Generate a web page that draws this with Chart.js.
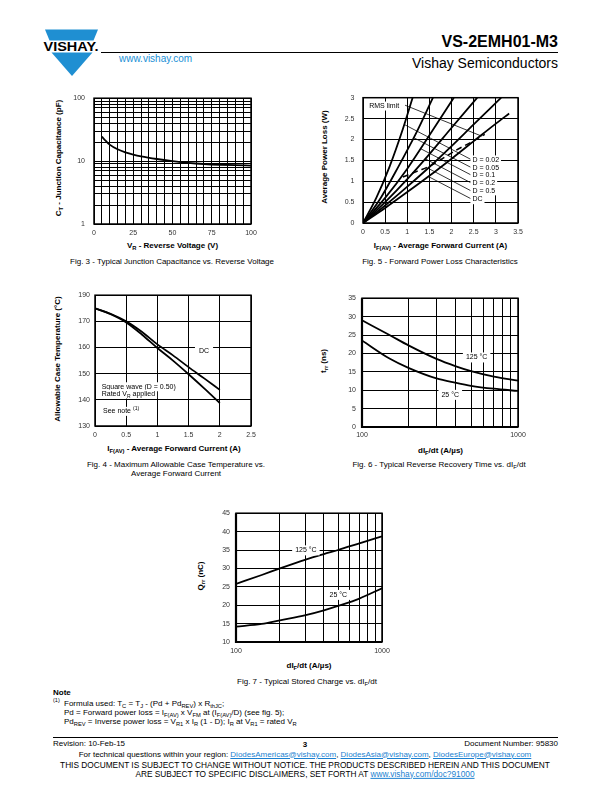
<!DOCTYPE html>
<html>
<head>
<meta charset="utf-8">
<title>VS-2EMH01-M3</title>
<script src="https://cdn.jsdelivr.net/npm/chart.js@4.4.1/dist/chart.umd.min.js"></script>
<style>
html,body{margin:0;padding:0;background:#fff;}
#page{position:relative;width:612px;height:792px;overflow:hidden;font-family:"Liberation Sans",Arial,sans-serif;color:#000;background:#fff;}
.t{position:absolute;white-space:nowrap;line-height:1;}
.c{transform:translate(-50%,-50%);}
.l{transform:translate(0,-50%);}
.r{transform:translate(-100%,-50%);}
.rot{transform:translate(-50%,-50%) rotate(-90deg);}
.ax{font-weight:bold;font-size:8px;}
.cap{font-size:8px;}
.ft{font-size:8px;}
.ftb{font-size:8.3px;}
sub{font-size:0.72em;vertical-align:-0.3em;line-height:0;}
sup{font-size:0.65em;vertical-align:0.5em;line-height:0;}
canvas{position:absolute;}
.lnk{color:#1a7fd0;text-decoration:underline;}
.hr{position:absolute;height:1px;background:#000;}
</style>
</head>
<body>
<div id="page">
  <svg width="612" height="90" style="position:absolute;left:0;top:0">
    <polygon points="45,29.5 98,29.5 93.5,40.5 49.5,40.5" fill="#1f8fd2"/>
    <polygon points="51.5,52.5 92.5,52.5 72,76" fill="#1f8fd2"/>
    <text x="43.5" y="51" font-family="Liberation Sans, Arial, sans-serif" font-weight="bold" font-size="12" textLength="55" lengthAdjust="spacingAndGlyphs">VISHAY.</text>
  </svg>
  <div class="t r" style="left:558px;top:42px;font-size:16px;font-weight:bold">VS-2EMH01-M3</div>
  <div class="hr" style="left:101px;top:52px;width:457px;"></div>
  <div class="t l" style="left:119px;top:58.5px;font-size:10px;color:#1a8fd6">www.vishay.com</div>
  <div class="t r" style="left:558px;top:62.5px;font-size:14px">Vishay Semiconductors</div>

  <!-- Fig 3 texts -->
  <div class="t rot ax" style="left:58.5px;top:157.5px">C<sub>T</sub> - Junction Capacitance (pF)</div>
  <div class="t c ax" style="left:172.5px;top:246px">V<sub>R</sub> - Reverse Voltage (V)</div>
  <div class="t c cap" style="left:172px;top:262px">Fig. 3 - Typical Junction Capacitance vs. Reverse Voltage</div>

  <!-- Fig 5 texts -->
  <div class="t rot ax" style="left:324.5px;top:157px">Average Power Loss (W)</div>
  <div class="t c ax" style="left:440.5px;top:246px">I<sub>F(AV)</sub> - Average Forward Current (A)</div>
  <div class="t c cap" style="left:440px;top:261.5px">Fig. 5 - Forward Power Loss Characteristics</div>

  <!-- Fig 4 texts -->
  <div class="t rot ax" style="left:57.5px;top:359px">Allowable Case Temperature (°C)</div>
  <div class="t c ax" style="left:174px;top:448.5px">I<sub>F(AV)</sub> - Average Forward Current (A)</div>
  <div class="t c cap" style="left:176px;top:464.5px">Fig. 4 - Maximum Allowable Case Temperature vs.</div>
  <div class="t c cap" style="left:176px;top:473.5px">Average Forward Current</div>

  <!-- Fig 6 texts -->
  <div class="t rot ax" style="left:323.5px;top:361px">t<sub>rr</sub> (ns)</div>
  <div class="t c ax" style="left:440.5px;top:450.5px">dI<sub>F</sub>/dt (A/µs)</div>
  <div class="t c cap" style="left:439px;top:465px">Fig. 6 - Typical Reverse Recovery Time vs. dI<sub>F</sub>/dt</div>

  <!-- Fig 7 texts -->
  <div class="t rot ax" style="left:201px;top:575.5px">Q<sub>rr</sub> (nC)</div>
  <div class="t c ax" style="left:309px;top:666px">dI<sub>F</sub>/dt (A/µs)</div>
  <div class="t c cap" style="left:307px;top:682px">Fig. 7 - Typical Stored Charge vs. dI<sub>F</sub>/dt</div>

  <!-- Note -->
  <div class="t l ft" style="left:53px;top:692.5px;font-weight:bold">Note</div>
  <div class="t l" style="left:53px;top:701px;font-size:5.5px">(1)</div>
  <div class="t l ft" style="left:64px;top:704px">Formula used: T<sub>C</sub> = T<sub>J</sub> - (Pd + Pd<sub>REV</sub>) x R<sub>thJC</sub>;</div>
  <div class="t l ft" style="left:64px;top:713px">Pd = Forward power loss = I<sub>F(AV)</sub> x V<sub>FM</sub> at (I<sub>F(AV)</sub>/D) (see fig. 5);</div>
  <div class="t l ft" style="left:64px;top:722px">Pd<sub>REV</sub> = Inverse power loss = V<sub>R1</sub> x I<sub>R</sub> (1 - D); I<sub>R</sub> at V<sub>R1</sub> = rated V<sub>R</sub></div>

  <!-- Footer -->
  <div class="hr" style="left:53px;top:737px;width:505px;"></div>
  <div class="t l ft" style="left:53px;top:743.5px">Revision: 10-Feb-15</div>
  <div class="t c ft" style="left:305px;top:744.5px;font-weight:bold">3</div>
  <div class="t r ft" style="left:558px;top:743.5px">Document Number: 95830</div>
  <div class="t c ft" style="left:305px;top:754.5px">For technical questions within your region: <span class="lnk">DiodesAmericas@vishay.com</span>, <span class="lnk">DiodesAsia@vishay.com</span>, <span class="lnk">DiodesEurope@vishay.com</span></div>
  <div class="t c ftb" style="left:305px;top:765px">THIS DOCUMENT IS SUBJECT TO CHANGE WITHOUT NOTICE. THE PRODUCTS DESCRIBED HEREIN AND THIS DOCUMENT</div>
  <div class="t c ftb" style="left:305px;top:773.5px">ARE SUBJECT TO SPECIFIC DISCLAIMERS, SET FORTH AT <span class="lnk">www.vishay.com/doc?91000</span></div>
</div>

<script>
// ================= DATA =================
// Fig. 3 - Junction capacitance
const capVr = [5, 7.5, 10, 15, 20, 25, 30, 40, 50, 60, 70, 80, 90, 100];
const capCt = [24.5, 21, 18.3, 15.4, 13.8, 12.7, 11.9, 10.8, 10.0, 9.4, 9.0, 8.75, 8.6, 8.5];
const capXTicks = [0,5,10,15,20,25,30,35,40,45,50,55,60,65,70,75,80,85,90,95,100];
const capXLabels = ['0','','','','','25','','','','','50','','','','','75','','','','','100'];
const capYTicks = [1,2,3,4,5,6,7,8,9,10,20,30,40,50,60,70,80,90,100];
const capYLabels = ['1','','','','','','','','','10','','','','','','','','','100'];

// Fig. 5 - Forward power loss
const plI002 = [0, 0.3, 0.6, 0.9, 1.12];
const plP002 = [0, 0.6, 1.35, 2.25, 3.0];
const plI005 = [0, 0.4, 0.8, 1.2, 1.58];
const plP005 = [0, 0.6, 1.35, 2.15, 3.0];
const plI01  = [0, 0.5, 1.0, 1.5, 2.05];
const plP01  = [0, 0.6, 1.3, 2.1, 3.0];
const plI02  = [0, 0.5, 1.0, 1.5, 2.0, 2.58];
const plP02  = [0, 0.5, 1.05, 1.65, 2.28, 3.0];
const plI05  = [0, 0.5, 1.0, 1.5, 2.0, 2.5, 3.12];
const plP05  = [0, 0.42, 0.87, 1.34, 1.84, 2.36, 3.0];
const plIdc  = [0, 0.5, 1.0, 1.5, 2.0, 2.5, 3.0, 3.3];
const plPdc  = [0, 0.36, 0.74, 1.13, 1.54, 1.96, 2.38, 2.62];
const rmsI   = [0.9, 1.25, 1.5, 2.1, 2.45, 2.75];
const rmsP   = [1.1, 1.25, 1.36, 1.74, 1.94, 2.12];
const plXTicks = [0,0.5,1,1.5,2,2.5,3,3.5];
const plXLabels = ['0','0.5','1','1.5','2','2.5','3','3.5'];
const plYTicks = [0,0.5,1,1.5,2,2.5,3];
const plYLabels = ['0','0.5','1','1.5','2','2.5','3'];

// Fig. 4 - Allowable case temperature
const tcI   = [0, 0.25, 0.5, 0.75, 1, 1.25, 1.5, 1.75, 2];
const tcDC  = [175, 172.9, 170, 166, 161.2, 157, 152.5, 148.2, 143.8];
const tcSq  = [175, 172.7, 169.6, 165, 159.8, 155, 149.8, 144.4, 138.8];
const tcXTicks = [0,0.5,1,1.5,2,2.5];
const tcXLabels = ['0','0.5','1','1.5','2','2.5'];
const tcYTicks = [130,140,150,160,170,180];
const tcYLabels = ['130','140','150','160','170','190'];

// Fig. 6 - Reverse recovery time
const trrDidt = [100, 150, 200, 300, 400, 500, 700, 1000];
const trr125  = [29.0, 25.0, 22.1, 18.5, 16.5, 15.2, 13.7, 12.6];
const trr25   = [23.5, 18.6, 16.0, 13.2, 12.0, 11.2, 10.4, 9.8];
const didtTicks = [100,200,300,400,500,600,700,800,900,1000];
const didtLabels = ['100','','','','','','','','','1000'];
const trrYTicks = [0,5,10,15,20,25,30,35];
const trrYLabels = ['0','5','10','15','20','25','30','35'];

// Fig. 7 - Stored charge
const qrrDidt = [100, 150, 200, 300, 400, 500, 700, 1000];
const qrr125  = [25.8, 28.2, 30.0, 32.4, 33.9, 35.0, 36.8, 38.7];
const qrr25   = [14.2, 14.9, 15.9, 17.3, 18.6, 19.8, 21.8, 24.6];
const qrrYTicks = [10,15,20,25,30,35,40,45];
const qrrYLabels = ['10','15','20','25','30','35','40','45'];

// ================= HELPERS =================
Chart.defaults.font.family = '"Liberation Sans", Arial, sans-serif';
const FONT = s => s + 'px "Liberation Sans", Arial, sans-serif';

function pts(xs, ys) { return xs.map((x, i) => ({x: x, y: ys[i]})); }
function curve(xs, ys, extra) {
  return Object.assign({data: pts(xs, ys), borderColor: '#000', borderWidth: 1.8, pointRadius: 0,
    cubicInterpolationMode: 'monotone', fill: false}, extra || {});
}
function axis(type, min, max, vals, labels, pad, size, isX) {
  return {
    type: type, min: min, max: max,
    afterBuildTicks: s => { s.ticks = vals.map(v => ({value: v})); },
    afterFit: s => { if (isX) s.height = size; else s.width = size; },
    grid: {color: '#000', lineWidth: 1, drawTicks: false},
    border: {display: false},
    ticks: {autoSkip: false, maxRotation: 0, minRotation: 0, padding: pad, color: '#333',
      font: {size: 7}, callback: (v, i) => labels[i]}
  };
}

const overlay = {
  id: 'overlay',
  afterDatasetsDraw(chart, args, o) {
    const ctx = chart.ctx, a = chart.chartArea, xs = chart.scales.x, ys = chart.scales.y;
    ctx.save();
    ctx.strokeStyle = '#000';
    (o.leaders || []).forEach(L => {
      ctx.lineWidth = 0.8;
      ctx.beginPath();
      ctx.moveTo(xs.getPixelForValue(L[0]), ys.getPixelForValue(L[1]));
      ctx.lineTo(xs.getPixelForValue(L[2]), ys.getPixelForValue(L[3]));
      ctx.stroke();
    });
    (o.texts || []).forEach(T => {
      const size = T.size || 7;
      let w = 0;
      T.parts.forEach(p => { ctx.font = FONT(p[1] ? size * 0.72 : size); w += ctx.measureText(p[0]).width; });
      const px = xs.getPixelForValue(T.x), py = ys.getPixelForValue(T.y);
      let sx = T.align === 'center' ? px - w / 2 : px;
      if (T.bg) {
        const pad = T.padX != null ? T.padX : 2, h = T.h || 9;
        ctx.fillStyle = '#fff';
        ctx.fillRect(sx - pad, py - h / 2, w + 2 * pad, h);
      }
      ctx.fillStyle = '#000'; ctx.textBaseline = 'middle'; ctx.textAlign = 'left';
      T.parts.forEach(p => {
        const s = p[1] ? size * 0.72 : size;
        ctx.font = FONT(s);
        const dy = p[1] === 1 ? size * 0.3 : (p[1] === 2 ? -size * 0.4 : 0);
        ctx.fillText(p[0], sx, py + dy);
        sx += ctx.measureText(p[0]).width;
      });
    });
    ctx.lineWidth = o.frame || 1.5;
    ctx.strokeRect(a.left, a.top, a.right - a.left, a.bottom - a.top);
    if (o.thick) {
      ctx.lineWidth = 2.2;
      ctx.beginPath();
      ctx.moveTo(a.left, a.top); ctx.lineTo(a.left, a.bottom); ctx.lineTo(a.right, a.bottom);
      ctx.stroke();
    }
    ctx.restore();
  }
};

function build(rect, yW, xH, cfg) {
  const padT = 6, padR = 14;
  const W = rect.r - rect.l + yW + padR, H = rect.b - rect.t + padT + xH;
  const cv = document.createElement('canvas');
  cv.width = W; cv.height = H;
  cv.style.left = (rect.l - yW) + 'px'; cv.style.top = (rect.t - padT) + 'px';
  cv.style.width = W + 'px'; cv.style.height = H + 'px';
  document.getElementById('page').appendChild(cv);
  return new Chart(cv.getContext('2d'), {
    type: 'line',
    data: {datasets: cfg.datasets},
    options: {
      responsive: false, animation: false, devicePixelRatio: 1, events: [],
      layout: {padding: {left: 0, top: padT, right: padR, bottom: 0}},
      scales: {
        x: axis(cfg.xType, cfg.xMin, cfg.xMax, cfg.xTicks, cfg.xLabels, cfg.xPad, xH, true),
        y: axis(cfg.yType, cfg.yMin, cfg.yMax, cfg.yTicks, cfg.yLabels, cfg.yPad, yW, false)
      },
      plugins: {legend: {display: false}, tooltip: {enabled: false}, overlay: cfg.overlay || {}}
    },
    plugins: [overlay]
  });
}

// ================= CHARTS =================
// Fig. 3
build({l: 94, t: 91, r: 251, b: 224}, 30, 18, {
  xType: 'linear', xMin: 0, xMax: 100, xTicks: capXTicks, xLabels: capXLabels, xPad: 5,
  yType: 'logarithmic', yMin: 1, yMax: 100, yTicks: capYTicks, yLabels: capYLabels, yPad: 9,
  datasets: [curve(capVr, capCt)],
  overlay: {}
});

// Fig. 5
build({l: 363, t: 91, r: 518, b: 223}, 30, 18, {
  xType: 'linear', xMin: 0, xMax: 3.5, xTicks: plXTicks, xLabels: plXLabels, xPad: 5,
  yType: 'linear', yMin: 0, yMax: 3, yTicks: plYTicks, yLabels: plYLabels, yPad: 8.5,
  datasets: [
    curve(plI002, plP002), curve(plI005, plP005), curve(plI01, plP01),
    curve(plI02, plP02), curve(plI05, plP05), curve(plIdc, plPdc),
    curve(rmsI, rmsP, {borderDash: [6, 4], borderWidth: 1.5})
  ],
  overlay: {
    leaders: [
      [0.95, 2.82, 2.68, 2.08],
      [0.93, 2.36, 2.44, 1.52],
      [1.15, 2.04, 2.44, 1.33],
      [1.30, 1.78, 2.44, 1.15],
      [1.40, 1.54, 2.44, 0.96],
      [1.47, 1.31, 2.44, 0.77],
      [1.48, 1.11, 2.44, 0.58]
    ],
    texts: [
      {x: 0.14, y: 2.8, parts: [['RMS limit', 0]], bg: true},
      {x: 2.47, y: 1.51, parts: [['D = 0.02', 0]], bg: true},
      {x: 2.47, y: 1.325, parts: [['D = 0.05', 0]], bg: true},
      {x: 2.47, y: 1.14, parts: [['D = 0.1', 0]], bg: true},
      {x: 2.47, y: 0.955, parts: [['D = 0.2', 0]], bg: true},
      {x: 2.47, y: 0.77, parts: [['D = 0.5', 0]], bg: true},
      {x: 2.47, y: 0.57, parts: [['DC', 0]], bg: true, h: 10}
    ]
  }
});

// Fig. 4
build({l: 95, t: 292, r: 251, b: 426}, 30, 18, {
  xType: 'linear', xMin: 0, xMax: 2.5, xTicks: tcXTicks, xLabels: tcXLabels, xPad: 4.5,
  yType: 'linear', yMin: 130, yMax: 180, yTicks: tcYTicks, yLabels: tcYLabels, yPad: 5,
  datasets: [curve(tcI, tcDC), curve(tcI, tcSq)],
  overlay: {
    texts: [
      {x: 1.747, y: 158.5, align: 'center', parts: [['DC', 0]], bg: true, padX: 4, h: 10},
      {x: 0.107, y: 145.0, parts: [['Square wave (D = 0.50)', 0]], bg: true},
      {x: 0.107, y: 142.2, parts: [['Rated V', 0], ['R', 1], [' applied', 0]], bg: true},
      {x: 0.128, y: 135.6, parts: [['See note ', 0], ['(1)', 2]], bg: true}
    ]
  }
});

// Fig. 6
build({l: 362, t: 294, r: 518, b: 427}, 30, 18, {
  xType: 'logarithmic', xMin: 100, xMax: 1000, xTicks: didtTicks, xLabels: didtLabels, xPad: 4,
  yType: 'linear', yMin: 0, yMax: 35, yTicks: trrYTicks, yLabels: trrYLabels, yPad: 6,
  datasets: [curve(trrDidt, trr125), curve(trrDidt, trr25)],
  overlay: {
    thick: true,
    texts: [
      {x: 543, y: 18.9, align: 'center', parts: [['125 °C', 0]], bg: true, padX: 3, h: 10},
      {x: 368, y: 8.74, align: 'center', parts: [['25 °C', 0]], bg: true, padX: 3, h: 10}
    ]
  }
});

// Fig. 7
build({l: 236, t: 509, r: 382, b: 642}, 30, 18, {
  xType: 'logarithmic', xMin: 100, xMax: 1000, xTicks: didtTicks, xLabels: didtLabels, xPad: 5,
  yType: 'linear', yMin: 10, yMax: 45, yTicks: qrrYTicks, yLabels: qrrYLabels, yPad: 6,
  datasets: [curve(qrrDidt, qrr125), curve(qrrDidt, qrr25)],
  overlay: {
    thick: true,
    texts: [
      {x: 301, y: 34.9, align: 'center', parts: [['125 °C', 0]], bg: true, padX: 3, h: 10},
      {x: 502, y: 22.8, align: 'center', parts: [['25 °C', 0]], bg: true, padX: 3, h: 10}
    ]
  }
});
</script>
</body>
</html>
